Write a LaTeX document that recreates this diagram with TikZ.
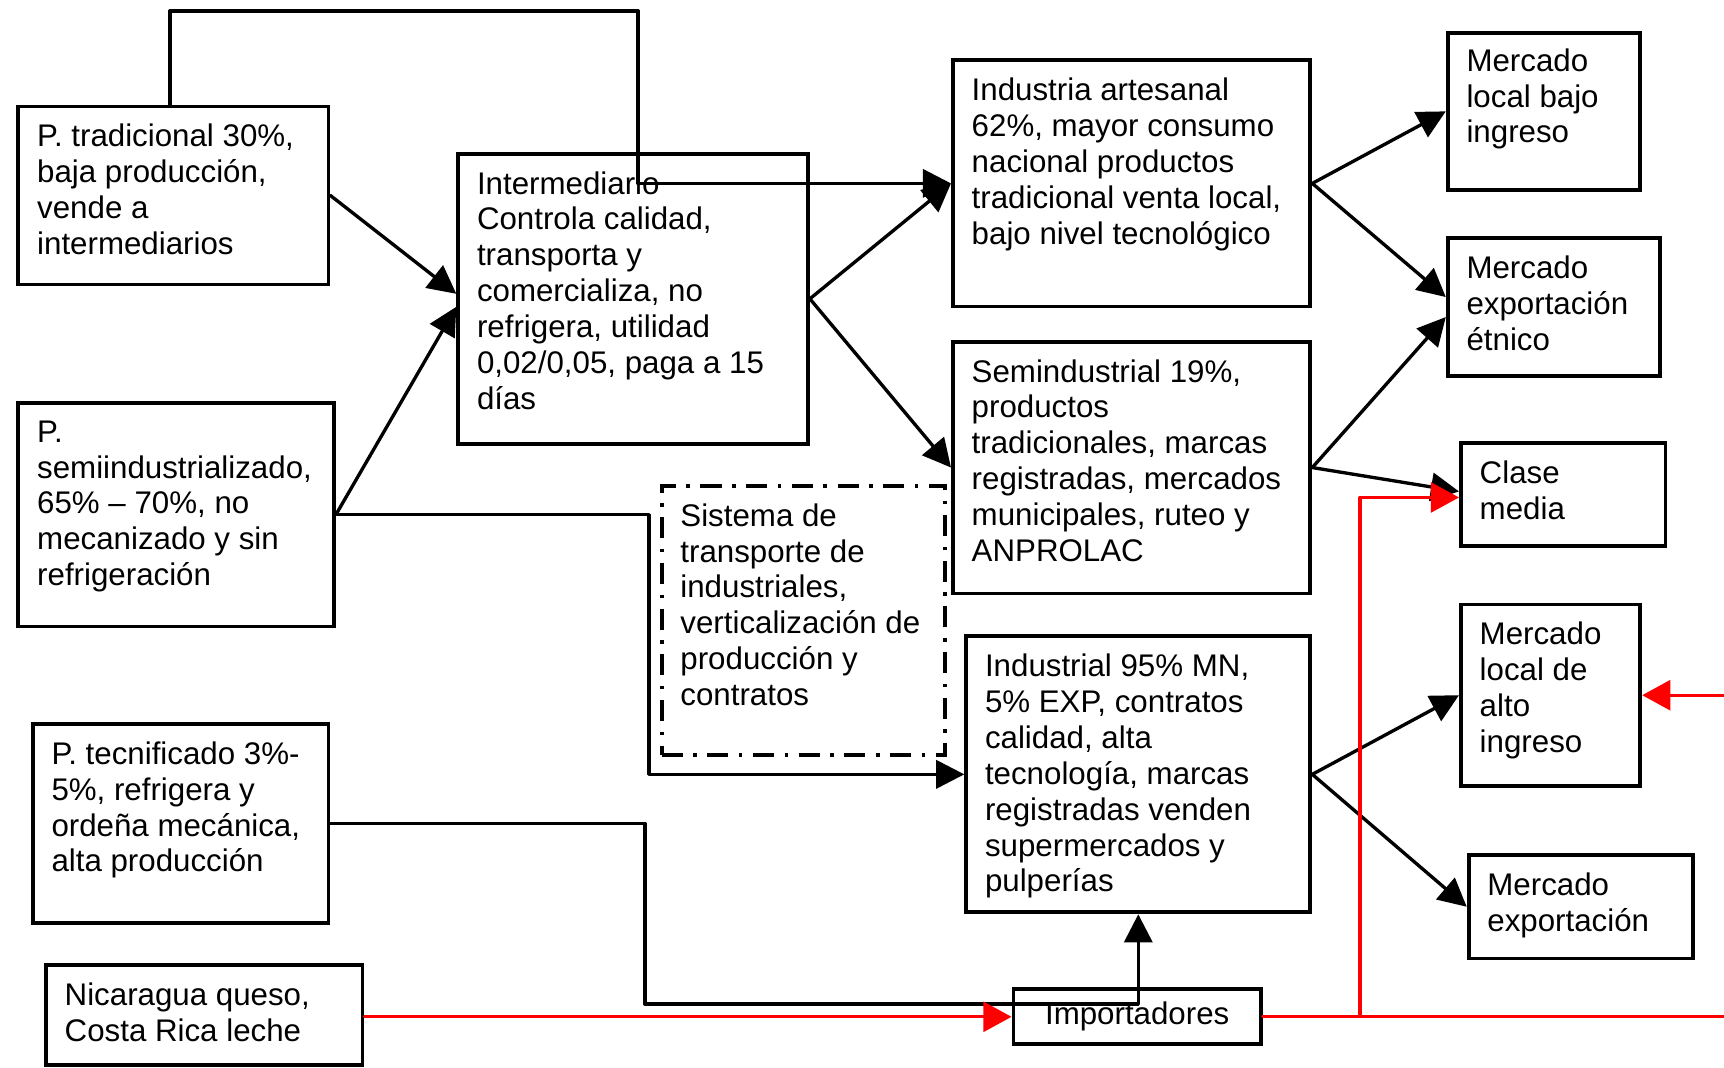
\documentclass[tikz,border=0pt]{standalone}
\usepackage{fontspec}
\setmainfont{Liberation Sans}
\usetikzlibrary{arrows.meta}

\begin{document}
\begin{tikzpicture}[line cap=round,line join=round,x=1.0cm,y=1.0cm,
  caja/.style={draw,line width=1.1pt,line join=miter,anchor=north west,inner sep=0pt},
  cajapunto/.style={caja,line cap=butt,dash pattern=on 6pt off 3pt on 1pt off 3pt},
  texto/.style={anchor=north west,align=left,inner sep=0pt,font=\fontsize{8.9}{10.2}\selectfont},
  linea/.style={line width=0.95pt},
  flecha/.style={linea,-{Triangle[length=8pt,width=8pt]}},
  roja/.style={color=red,line width=0.9pt,-{Triangle[length=8pt,width=8.5pt]}}]

	\useasboundingbox (0,0) rectangle (17.24,-10.67);

	% productores
	\node[caja,minimum width=3.10cm,minimum height=1.78cm] (trad) at (0.165,-1.045) {};
	\node[texto] at ([xshift=0.2cm,yshift=-0.19cm]trad.north west) {P. tradicional 30\%,\\baja producción,\\vende a\\intermediarios};
	\node[caja,minimum width=3.155cm,minimum height=2.235cm] (semi) at (0.165,-4.01) {};
	\node[texto] at ([xshift=0.2cm,yshift=-0.19cm]semi.north west) {P.\\semiindustrializado,\\65\% – 70\%, no\\mecanizado y sin\\refrigeración};
	\node[caja,minimum width=2.957cm,minimum height=1.99cm] (tecn) at (0.308,-7.22) {};
	\node[texto] at ([xshift=0.2cm,yshift=-0.19cm]tecn.north west) {P. tecnificado 3\%-\\5\%, refrigera y\\ordeña mecánica,\\alta producción};
	\node[caja,minimum width=3.166cm,minimum height=1.0cm] (nica) at (0.44,-9.63) {};
	\node[texto] at ([xshift=0.2cm,yshift=-0.19cm]nica.north west) {Nicaragua queso,\\Costa Rica leche};

	% intermediarios
	\node[caja,minimum width=3.497cm,minimum height=2.903cm] (inter) at (4.563,-1.517) {};
	\node[texto] at ([xshift=0.2cm,yshift=-0.19cm]inter.north west) {Intermediario\\Controla calidad,\\transporta y\\comercializa, no\\refrigera, utilidad\\0,02/0,05, paga a 15\\días};
	\node[cajapunto,minimum width=2.837cm,minimum height=2.692cm] (sist) at (6.597,-4.838) {};
	\node[texto] at ([xshift=0.2cm,yshift=-0.19cm]sist.north west) {Sistema de\\transporte de\\industriales,\\verticalización de\\producción y\\contratos};
	\node[caja,minimum width=2.475cm,minimum height=0.549cm,font=\fontsize{8.9}{10.2}\selectfont] (import) at (10.115,-9.874) {Importadores};

	% industria
	\node[caja,minimum width=3.574cm,minimum height=2.463cm] (art) at (9.51,-0.583) {};
	\node[texto] at ([xshift=0.2cm,yshift=-0.19cm]art.north west) {Industria artesanal\\62\%, mayor consumo\\nacional productos\\tradicional venta local,\\bajo nivel tecnológico};
	\node[caja,minimum width=3.574cm,minimum height=2.518cm] (semind) at (9.51,-3.397) {};
	\node[texto] at ([xshift=0.2cm,yshift=-0.19cm]semind.north west) {Semindustrial 19\%,\\productos\\tradicionales, marcas\\registradas, mercados\\municipales, ruteo y\\ANPROLAC};
	\node[caja,minimum width=3.441cm,minimum height=2.76cm] (indus) at (9.643,-6.344) {};
	\node[texto] at ([xshift=0.2cm,yshift=-0.19cm]indus.north west) {Industrial 95\% MN,\\5\% EXP, contratos\\calidad, alta\\tecnología, marcas\\registradas venden\\supermercados y\\pulperías};

	% mercados
	\node[caja,minimum width=1.925cm,minimum height=1.572cm] (bajo) at (14.458,-0.308) {};
	\node[texto] at ([xshift=0.2cm,yshift=-0.17cm]bajo.north west) {Mercado\\local bajo\\ingreso};
	\node[caja,minimum width=2.122cm,minimum height=1.374cm] (etnico) at (14.458,-2.364) {};
	\node[texto] at ([xshift=0.2cm,yshift=-0.19cm]etnico.north west) {Mercado\\exportación\\étnico};
	\node[caja,minimum width=2.046cm,minimum height=1.03cm] (media) at (14.59,-4.41) {};
	\node[texto] at ([xshift=0.2cm,yshift=-0.19cm]media.north west) {Clase\\media};
	\node[caja,minimum width=1.793cm,minimum height=1.815cm] (alto) at (14.59,-6.025) {};
	\node[texto] at ([xshift=0.2cm,yshift=-0.19cm]alto.north west) {Mercado\\local de\\alto\\ingreso};
	\node[caja,minimum width=2.243cm,minimum height=1.036cm] (expo) at (14.667,-8.53) {};
	\node[texto] at ([xshift=0.2cm,yshift=-0.19cm]expo.north west) {Mercado\\exportación};

	% flechas negras
	\coordinate (t1) at (1.70,-0.11);
	\coordinate (t2) at (6.38,-0.11);
	\draw[flecha] (trad.north -| t1) -- (t1) -- (t2) -- (t2 |- art.west) -- (art.west);
	\draw[flecha] (trad.east) -- ([yshift=0.05cm]inter.west);
	\draw[flecha] (semi.east) -- ([yshift=-0.08cm]inter.west);
	\coordinate (s1) at (6.49,0);
	\draw[flecha] (semi.east) -- (semi.east -| s1) |- (indus.west);
	\draw[flecha] (inter.east) -- (art.west);
	\draw[flecha] (inter.east) -- (semind.west);
	\draw[flecha] (art.east) -- (bajo.west);
	\draw[flecha] (art.east) -- ([yshift=0.1cm]etnico.west);
	\draw[flecha] (semind.east) -- ([yshift=-0.1cm]etnico.west);
	\draw[flecha] (semind.east) -- ([yshift=0.03cm]media.west);
	\draw[flecha] (indus.east) -- (alto.west);
	\draw[flecha] (indus.east) -- (expo.west);
	\coordinate (c1) at (6.45,-10.04);
	\draw[flecha] (tecn.east) -| (c1) -| (indus.south);

	% flechas rojas
	\draw[roja] (import.west -| nica.east) -- (import.west);
	\coordinate (r1) at (13.60,0);
	\coordinate (r2) at (17.40,0);
	\draw[roja] (import.east) -- (import.east -| r1) |- ([yshift=-0.03cm]media.west);
	\draw[roja] (import.east) -- (import.east -| r2) |- (alto.east);
\end{tikzpicture}
\end{document}
